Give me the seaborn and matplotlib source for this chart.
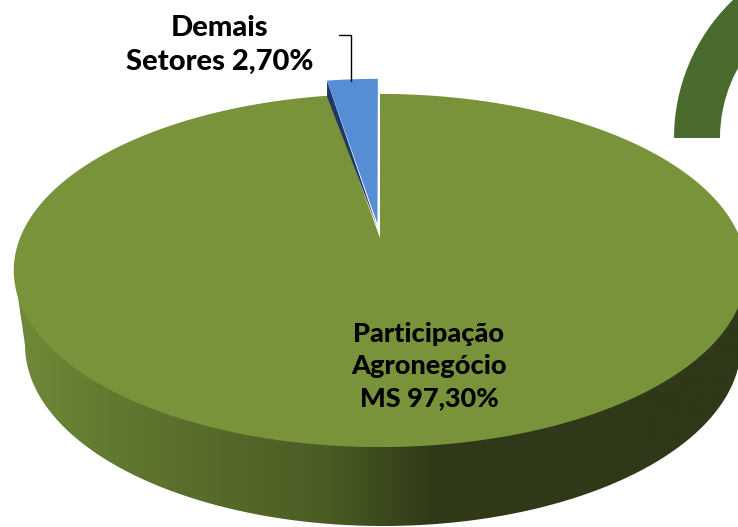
import numpy as np
import seaborn as sns
from matplotlib import pyplot as plt
from matplotlib.patches import PathPatch, Polygon, Wedge
from matplotlib.path import Path
from matplotlib.transforms import Affine2D

# chart data
sectors = ["Demais Setores", "Participação Agronegócio MS"]
shares = [2.70, 97.30]
sector_colors = ["#558ed5", "#78933a"]
explode = [0.085, 0]
side_colors = ["#6f8b38", "#607830", "#57692a", "#4a5c23", "#2f3a18", "#2f3918",
               "#2f3818", "#2f3818"]

# tilted disc: centre on screen, scale and perspective
cx, cy = 380, 238
scale_x, scale_y = 360, 170.6
persp = 0.184


def project(points):
    points = np.asarray(points)
    w = 1 + persp * points[:, 1]
    return np.column_stack([cx + scale_x * points[:, 0] / w,
                            cy - scale_y * points[:, 1] / w])


def flatten(wedge):
    poly = wedge.get_path().to_polygons(Affine2D().scale(1000), closed_only=True)[0]
    return project(poly / 1000)


sns.set_theme(style="white")
plt.rcParams["font.family"] = ["Lato", "DejaVu Sans"]

fig = plt.figure(figsize=(7.38, 5.27), dpi=100)
ax = fig.add_axes([0, 0, 1, 1])

wedges, _ = ax.pie(shares, explode=explode, colors=sector_colors, startangle=90,
                   counterclock=True)
ax.set_aspect("auto")
for wedge in wedges:
    wedge.set_visible(False)

# side wall with the horizontal shading
theta = np.linspace(0, np.pi, 200)
wall_x = 383 + 358 * np.cos(theta)
wall_y = 345 + 181 * np.sin(theta)
wall_path = Path(np.column_stack([np.r_[746, wall_x, 14], np.r_[270, wall_y, 270]]))
wall_patch = PathPatch(wall_path, transform=ax.transData, fc="none", ec="none")
ax.add_patch(wall_patch)
side_cmap = sns.blend_palette(side_colors, as_cmap=True)
img = ax.imshow(np.linspace(0, 1, 512)[None, :], extent=(14, 746, 527, 0),
                cmap=side_cmap, aspect="auto", zorder=1)
img.set_clip_path(wall_patch)

# top faces
green_pts = flatten(wedges[1])
ax.add_patch(Polygon(green_pts, closed=True, fc=sector_colors[1], ec="none", zorder=2))

blue_pts = flatten(wedges[0])
blue_apex = project([wedges[0].center])[0]
# the lifted slice reaches a little further up than the rim
blue_pts[:, 1] = blue_apex[1] + (blue_pts[:, 1] - blue_apex[1]) * 1.035
blue_left = blue_pts[np.argmin(blue_pts[:, 0])]
ax.add_patch(Polygon([blue_left, blue_left + [0, 16], blue_apex + [0, 4]], closed=True,
                     fc="#1f3864", ec="none", zorder=3))
ax.add_patch(Polygon(blue_pts, closed=True, fc=sector_colors[0], ec="none", zorder=4))

# decorative ring in the corner
ax.add_patch(Wedge((865, 138), 191, 180, 270, width=46, fc="#4a6b2d", ec="none", zorder=1))

# leader line and labels
ax.plot([339, 351, 351], [35, 35, 81], color="black", lw=1, zorder=5)
ax.text(220, 45, "Demais\nSetores 2,70%", ha="center", va="center", fontsize=21,
        fontweight="black", color="black", linespacing=1.35, zorder=6)
ax.text(429, 366, "Participação\nAgronegócio\nMS 97,30%", ha="center", va="center",
        fontsize=19.5, fontweight="black", color="black", linespacing=1.42, zorder=6)

ax.set_xlim(0, 738)
ax.set_ylim(527, 0)
ax.axis("off")

fig.savefig("out.png", dpi=100)
